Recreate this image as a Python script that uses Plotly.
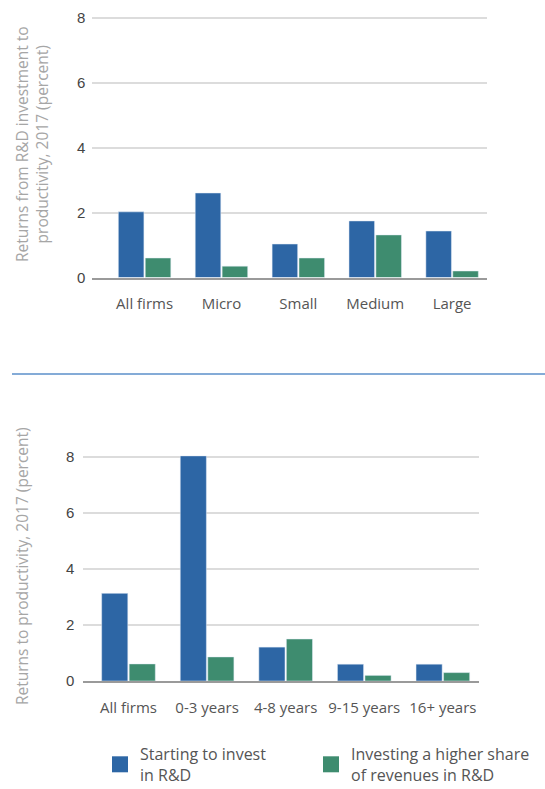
import plotly.graph_objects as go

size_cats = ["All firms", "Micro", "Small", "Medium", "Large"]
size_start = [2.02, 2.6, 1.03, 1.74, 1.43]
size_share = [0.6, 0.35, 0.6, 1.31, 0.2]

age_cats = ["All firms", "0-3 years", "4-8 years", "9-15 years", "16+ years"]
age_start = [3.13, 8.04, 1.21, 0.6, 0.6]
age_share = [0.61, 0.86, 1.5, 0.2, 0.3]

series_names = ["Starting to invest<br>in R&D", "Investing a higher share<br>of revenues in R&D"]
BLUE = "#2d66a5"
GREEN = "#3e8c6f"

W, H = 545, 789
FONT = "Open Sans"

fig = go.Figure()
fig.add_trace(go.Bar(x=size_cats, y=size_start, name=series_names[0], marker_color=BLUE,
                     xaxis="x", yaxis="y", showlegend=False))
fig.add_trace(go.Bar(x=size_cats, y=size_share, name=series_names[1], marker_color=GREEN,
                     xaxis="x", yaxis="y", showlegend=False))
fig.add_trace(go.Bar(x=age_cats, y=age_start, name=series_names[0], marker_color=BLUE,
                     xaxis="x2", yaxis="y2", showlegend=False))
fig.add_trace(go.Bar(x=age_cats, y=age_share, name=series_names[1], marker_color=GREEN,
                     xaxis="x2", yaxis="y2", showlegend=False))
# legend-only entries (square swatches), one legend box per series
for name, col, lg in zip(series_names, [BLUE, GREEN], ["legend", "legend2"]):
    fig.add_trace(go.Scatter(x=[None], y=[None], mode="markers", name=name,
                             marker=dict(symbol="square", size=21, color=col),
                             xaxis="x2", yaxis="y2", showlegend=True, legend=lg))

def py(px):
    return 1 - px / H

top_zero, top_unit = 277.5, 32.5
bot_zero, bot_unit = 681.0, 28.0
ymax = 8.2

tick_font = dict(family=FONT, size=15, color="#555555")
ytick_font = dict(family="Liberation Sans", size=15, color="#444444")
title_font = dict(family=FONT, size=15.5, color="#a6a6a6")

common_x = dict(showgrid=False, showline=True, linecolor="#9a9a9a", linewidth=1.5,
                ticks="", tickfont=tick_font, fixedrange=True, ticklabelstandoff=12,
                automargin=False)
common_y = dict(range=[0, ymax], tickvals=[0, 2, 4, 6, 8], showgrid=True,
                gridcolor="#dcdcdc", gridwidth=1.5, zeroline=False, ticks="",
                tickfont=ytick_font, showline=False, automargin=False)

legend_common = dict(orientation="h", yanchor="top", y=py(737), xanchor="left",
                     font=dict(family=FONT, size=16, color="#555555"),
                     itemclick=False, itemsizing="trace", bgcolor="rgba(0,0,0,0)")

fig.update_layout(
    width=W, height=H,
    margin=dict(l=0, r=0, t=0, b=0, autoexpand=False),
    paper_bgcolor="white", plot_bgcolor="white",
    barmode="group", bargap=0.3, bargroupgap=0.05,
    font=dict(family=FONT),
    xaxis=dict(domain=[92.3 / W, 486.7 / W], anchor="y", range=[-0.68, 4.45], **common_x),
    yaxis=dict(domain=[py(top_zero), py(top_zero - ymax * top_unit)], anchor="x",
               ticklabelstandoff=6,
               title=dict(text="Returns from R&D investment to<br>productivity, 2017 (percent)",
                          font=title_font, standoff=24),
               **common_y),
    xaxis2=dict(domain=[83.3 / W, 479 / W], anchor="y2", range=[-0.575, 4.46], **common_x),
    yaxis2=dict(domain=[py(bot_zero), py(bot_zero - ymax * bot_unit)], anchor="x2",
                ticklabelstandoff=8,
                title=dict(text="Returns to productivity, 2017 (percent)",
                           font=title_font, standoff=33),
                **common_y),
    legend=dict(x=100 / W, **legend_common),
    legend2=dict(x=311 / W, **legend_common),
    shapes=[dict(type="line", xref="paper", yref="paper", x0=12 / W, x1=1,
                 y0=py(374), y1=py(374), line=dict(color="#5b8fca", width=1.5))],
)

fig.write_html("out.html")
